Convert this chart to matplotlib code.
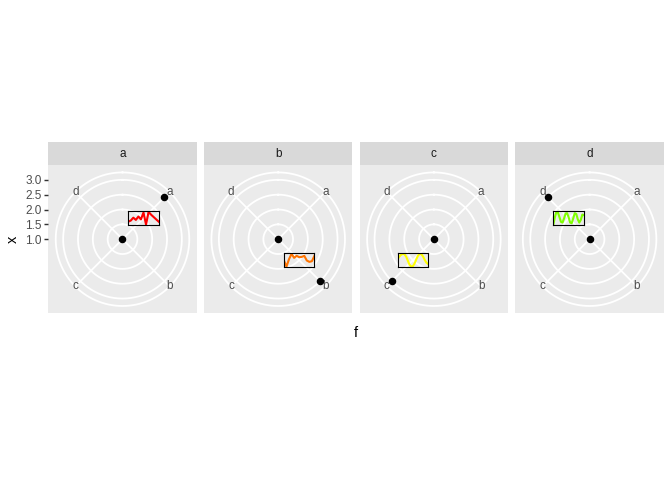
import numpy as np
import matplotlib
matplotlib.use("Agg")
import matplotlib.pyplot as plt

plt.rcParams['font.family'] = ['Liberation Sans', 'DejaVu Sans']

# ---------------- data ----------------
facets = ['a', 'b', 'c', 'd']
theta_levels = ['a', 'b', 'c', 'd']
x_center = [1.0, 1.0, 1.0, 1.0]
x_outer = [3.0, 3.0, 3.0, 3.0]
x_inset = [2.0, 2.0, 2.0, 2.0]
r_breaks = [1.0, 1.5, 2.0, 2.5, 3.0]
r_tick_labels = ['1.0', '1.5', '2.0', '2.5', '3.0']
line_colors = ['#FF0000', '#FF7300', '#FFFF00', '#7FFF00']

spark_a = [0.24, 0.33, 0.55, 0.38, 0.64, 0.42, 0.95, 0.02, 1.0, 0.78, 0.6, 0.42, 0.24]
spark_b = [0.45, 0.0, 0.55, 0.95, 0.65, 0.8, 0.7, 0.72, 0.8, 0.45, 0.35, 0.4, 0.8]
spark_c = [0.57, 0.75, 0.88, 0.95, 0.92, 0.75, 0.45, 0.15, 0.02, 0.05, 0.25, 0.55,
           0.82, 0.95, 0.92, 0.75, 0.5, 0.3, 0.2]
spark_d = [0.0, 0.55, 0.95, 0.9, 0.55, 0.2, 0.15, 0.45, 0.82, 0.85, 0.55, 0.15, 0.1,
           0.45, 0.85, 0.8, 0.4, 0.15, 0.35, 0.75, 0.7]
sparks = [spark_a, spark_b, spark_c, spark_d]

# ---------------- style ----------------
W, H = 672, 480
fig = plt.figure(figsize=(W / 100, H / 100), dpi=100)
S = 0.96  # 96 dpi (R) -> 100 dpi
fs_axis = 8.8 * S
fs_title = 11 * S
panel_bg = '#EBEBEB'
strip_bg = '#D9D9D9'
grid_col = 'white'
grid_lw = 1.42 * S * 0.96


def rect(x0, y0, x1, y1):
    return [x0 / W, 1 - y1 / H, (x1 - x0) / W, (y1 - y0) / H]


panel_left = [48.3, 204.0, 359.7, 515.4]
panel_w = 148.4
panel_top, panel_bot = 165.0, 313.4
strip_top = 142.3

rmin, rmax = min(x_center), max(x_outer)
r_lim = rmin + (rmax - rmin) * 0.5 / 0.4
r_outer = rmin + (rmax - rmin) * 0.45 / 0.4
n_lev = len(theta_levels)
thetas = {lev: (i + 0.5) * 2 * np.pi / n_lev for i, lev in enumerate(theta_levels)}
circ = np.linspace(0, 2 * np.pi, 361)

for k, fac in enumerate(facets):
    x0 = panel_left[k]
    x1 = x0 + panel_w
    # background cartesian axes (also carries the r axis)
    bg = fig.add_axes(rect(x0, panel_top, x1, panel_bot))
    bg.set_facecolor(panel_bg)
    bg.set_xlim(rmin - (r_lim - rmin), r_lim)
    bg.set_ylim(rmin - (r_lim - rmin), r_lim)
    for sp in bg.spines.values():
        sp.set_visible(False)
    bg.set_xticks([])
    if k == 0:
        bg.set_yticks(r_breaks)
        bg.set_yticklabels(r_tick_labels)
        bg.tick_params(axis='y', length=2.75 * S, width=1.07 * S, color='#333333',
                       labelcolor='#4D4D4D', labelsize=fs_axis, pad=2.2 * S)
    else:
        bg.set_yticks([])

    # polar axes
    ax = fig.add_axes(rect(x0, panel_top, x1, panel_bot), projection='polar')
    ax.set_facecolor('none')
    ax.set_theta_zero_location('N')
    ax.set_theta_direction(-1)
    ax.set_rlim(rmin, r_lim)
    ax.grid(False)
    ax.set_xticks([])
    ax.set_yticks([])
    ax.spines['polar'].set_visible(False)

    for rb in r_breaks[1:] + [r_outer]:
        ax.plot(circ, np.full_like(circ, rb), color=grid_col, lw=grid_lw, zorder=1)
    for lev in theta_levels:
        ax.plot([thetas[lev], thetas[lev]], [rmin, r_outer], color=grid_col, lw=grid_lw, zorder=1)
        ax.text(thetas[lev], r_outer, lev, ha='center', va='center', color='#4D4D4D',
                fontsize=fs_axis, clip_on=False, zorder=2)

    ax.plot([thetas[fac]], [x_center[k]], 'o', color='black', ms=4.4, zorder=4, clip_on=False)
    ax.plot([thetas[fac]], [x_outer[k]], 'o', color='black', ms=4.4, zorder=4, clip_on=False)

    # inset sparkline
    disp = ax.transData.transform((thetas[fac], x_inset[k]))
    cx, cy = fig.transFigure.inverted().transform(disp)
    bw, bh = 30.5 / W, 13.5 / H
    iax = fig.add_axes([cx - bw / 2, cy - bh / 2, bw, bh])
    iax.set_facecolor('none')
    vals = sparks[k]
    iax.plot(range(len(vals)), vals, color=line_colors[k], lw=1.5)
    iax.set_xlim(0, len(vals) - 1)
    iax.set_ylim(min(vals) - 0.03, max(vals) + 0.03)
    iax.set_xticks([])
    iax.set_yticks([])
    for sp in iax.spines.values():
        sp.set_linewidth(0.8)
        sp.set_color('black')

    # strip
    sax = fig.add_axes(rect(x0, strip_top, x1, panel_top))
    sax.set_facecolor(strip_bg)
    sax.set_xticks([])
    sax.set_yticks([])
    for sp in sax.spines.values():
        sp.set_visible(False)
    sax.text(0.5, 0.5, fac, ha='center', va='center', color='#1A1A1A',
             fontsize=fs_axis, transform=sax.transAxes)

fig.text(12.5 / W, 1 - 239 / H, 'x', rotation=90, ha='center', va='center',
         fontsize=fs_title, color='black')
fig.text(356 / W, 1 - 333 / H, 'f', ha='center', va='center',
         fontsize=fs_title, color='black')

fig.savefig('out.png', dpi=100, facecolor='white')
